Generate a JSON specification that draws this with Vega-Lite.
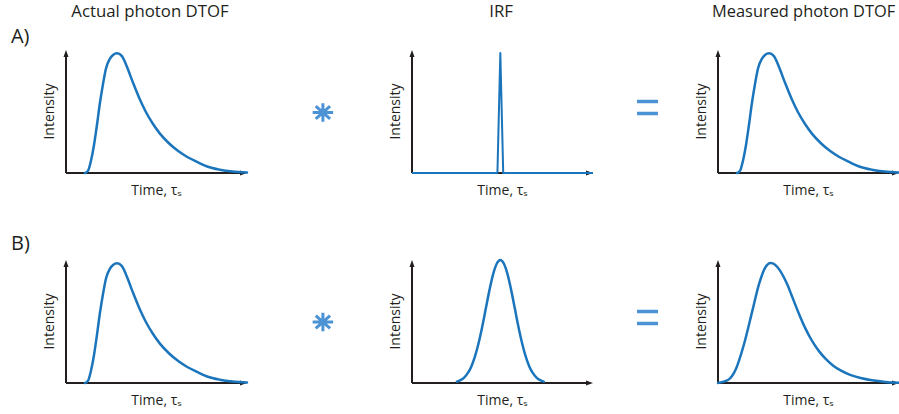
{
  "$schema": "https://vega.github.io/schema/vega-lite/v6.json",
  "background": "white",
  "padding": {"left": 10, "top": 3, "right": 0, "bottom": 0},
  "config": {"view": {"stroke": null}},
  "datasets": {
    "one": [{}],
    "dtof": [
      {"t": 10.5, "I": 0}, {"t": 12.2, "I": 0.02}, {"t": 13.8, "I": 0.1}, {"t": 15.5, "I": 0.23},
      {"t": 17.1, "I": 0.39}, {"t": 18.8, "I": 0.575}, {"t": 20.4, "I": 0.72}, {"t": 22.1, "I": 0.85},
      {"t": 24.3, "I": 0.93}, {"t": 26.0, "I": 0.96}, {"t": 28.2, "I": 0.973}, {"t": 30.9, "I": 0.95},
      {"t": 33.7, "I": 0.862}, {"t": 37.0, "I": 0.735}, {"t": 40.9, "I": 0.595}, {"t": 44.0, "I": 0.5},
      {"t": 48.0, "I": 0.4}, {"t": 52.0, "I": 0.318}, {"t": 57.0, "I": 0.24}, {"t": 62.0, "I": 0.178},
      {"t": 67.0, "I": 0.13}, {"t": 72.4, "I": 0.09}, {"t": 78.0, "I": 0.053}, {"t": 85.0, "I": 0.027},
      {"t": 92.0, "I": 0.012}, {"t": 100, "I": 0.004}
    ],
    "irfA": [
      {"t": 0, "I": 0}, {"t": 47.2, "I": 0}, {"t": 48.8, "I": 0.975}, {"t": 50.4, "I": 0}, {"t": 100, "I": 0}
    ],
    "irfB": [
      {"t": 24.8, "I": 0.011}, {"t": 26.8, "I": 0.023}, {"t": 28.8, "I": 0.044}, {"t": 30.8, "I": 0.08},
      {"t": 32.8, "I": 0.135}, {"t": 34.8, "I": 0.216}, {"t": 36.8, "I": 0.325}, {"t": 38.8, "I": 0.458},
      {"t": 40.8, "I": 0.607}, {"t": 42.8, "I": 0.755}, {"t": 44.8, "I": 0.883}, {"t": 46.8, "I": 0.969},
      {"t": 48.8, "I": 1.0}, {"t": 50.8, "I": 0.969}, {"t": 52.8, "I": 0.883}, {"t": 54.8, "I": 0.755},
      {"t": 56.8, "I": 0.607}, {"t": 58.8, "I": 0.458}, {"t": 60.8, "I": 0.325}, {"t": 62.8, "I": 0.216},
      {"t": 64.8, "I": 0.135}, {"t": 66.8, "I": 0.08}, {"t": 68.8, "I": 0.044}, {"t": 70.8, "I": 0.023},
      {"t": 72.8, "I": 0.011}
    ],
    "measB": [
      {"t": 0, "I": 0}, {"t": 5.5, "I": 0.024}, {"t": 9.9, "I": 0.114}, {"t": 14.4, "I": 0.317},
      {"t": 19.0, "I": 0.588}, {"t": 22.7, "I": 0.805}, {"t": 26.0, "I": 0.935}, {"t": 29.1, "I": 0.975},
      {"t": 31.5, "I": 0.962}, {"t": 34.0, "I": 0.92}, {"t": 36.3, "I": 0.862}, {"t": 38.3, "I": 0.8},
      {"t": 40.5, "I": 0.72}, {"t": 43.0, "I": 0.625}, {"t": 45.5, "I": 0.535}, {"t": 48.0, "I": 0.452},
      {"t": 50.5, "I": 0.38}, {"t": 53.0, "I": 0.318}, {"t": 56.0, "I": 0.255}, {"t": 59.5, "I": 0.196},
      {"t": 63.5, "I": 0.143}, {"t": 68.0, "I": 0.1}, {"t": 73.0, "I": 0.066}, {"t": 78.8, "I": 0.04},
      {"t": 85.0, "I": 0.022}, {"t": 92.5, "I": 0.009}, {"t": 100, "I": 0.003}
    ]
  },
  "columns": 5,
  "spacing": {"row": 87, "column": 0},
  "bounds": "flush",
  "concat": [
    {
      "width": 181, "height": 123,
      "layer": [
        {"data": {"name": "one"}, "mark": {"type": "rule", "color": "#231f20", "strokeWidth": 2}, "encoding": {"x": {"datum": 0, "type": "quantitative", "scale": {"domain": [0, 100]}, "axis": null}, "y": {"datum": 0, "type": "quantitative", "scale": {"domain": [0, 1]}, "axis": null}, "y2": {"datum": 0.95}}},
        {"data": {"name": "one"}, "mark": {"type": "rule", "color": "#231f20", "strokeWidth": 2}, "encoding": {"x": {"datum": 0, "type": "quantitative", "scale": {"domain": [0, 100]}, "axis": null}, "x2": {"datum": 97}, "y": {"datum": 0, "type": "quantitative", "scale": {"domain": [0, 1]}, "axis": null}}},
        {"data": {"name": "one"}, "mark": {"type": "point", "shape": "M0,0L0.36,1L-0.36,1Z", "filled": true, "color": "#231f20", "size": 196, "opacity": 1}, "encoding": {"x": {"datum": 0, "type": "quantitative", "scale": {"domain": [0, 100]}, "axis": null}, "y": {"datum": 1, "type": "quantitative", "scale": {"domain": [0, 1]}, "axis": null}}},
        {"data": {"name": "one"}, "mark": {"type": "point", "shape": "M0,0L-1,-0.36L-1,0.36Z", "filled": true, "color": "#231f20", "size": 196, "opacity": 1}, "encoding": {"x": {"datum": 100, "type": "quantitative", "scale": {"domain": [0, 100]}, "axis": null}, "y": {"datum": 0, "type": "quantitative", "scale": {"domain": [0, 1]}, "axis": null}}},
        {"data": {"name": "one"}, "mark": {"type": "text", "text": "Intensity", "font": "Open Sans", "fontSize": 14, "angle": 270, "align": "center", "baseline": "alphabetic", "color": "#231f20"}, "encoding": {"x": {"datum": -6.6, "type": "quantitative", "scale": {"domain": [0, 100]}, "axis": null}, "y": {"datum": 0.5, "type": "quantitative", "scale": {"domain": [0, 1]}, "axis": null}}},
        {"data": {"name": "one"}, "mark": {"type": "text", "text": "Time, τₛ", "font": "Open Sans", "fontSize": 14, "align": "center", "baseline": "alphabetic", "color": "#231f20"}, "encoding": {"x": {"datum": 50, "type": "quantitative", "scale": {"domain": [0, 100]}, "axis": null}, "y": {"datum": -0.179, "type": "quantitative", "scale": {"domain": [0, 1]}, "axis": null}}},
        {"data": {"name": "dtof"}, "mark": {"type": "line", "color": "#1b75bc", "strokeWidth": 2.5, "interpolate": "monotone", "strokeCap": "round"}, "encoding": {"x": {"field": "t", "type": "quantitative", "scale": {"domain": [0, 100]}, "axis": null}, "y": {"field": "I", "type": "quantitative", "scale": {"domain": [0, 1]}, "axis": null}}},
        {"data": {"name": "one"}, "mark": {"type": "text", "text": "A)", "font": "Open Sans", "fontSize": 20, "align": "left", "baseline": "alphabetic", "color": "#231f20"}, "encoding": {"x": {"datum": -30.4, "type": "quantitative", "scale": {"domain": [0, 100]}, "axis": null}, "y": {"datum": 1.055, "type": "quantitative", "scale": {"domain": [0, 1]}, "axis": null}}},
        {"data": {"name": "one"}, "mark": {"type": "text", "text": "Actual photon DTOF", "font": "Open Sans", "fontSize": 16.8, "align": "center", "baseline": "alphabetic", "color": "#231f20"}, "encoding": {"x": {"datum": 46.4, "type": "quantitative", "scale": {"domain": [0, 100]}, "axis": null}, "y": {"datum": 1.271, "type": "quantitative", "scale": {"domain": [0, 1]}, "axis": null}}}
      ]
    },
    {
      "width": 165, "height": 123,
      "data": {"name": "one"},
      "mark": {"type": "point", "shape": "M0,-0.9L0,0.9M-1,0L1,0M-0.7,-0.63L0.7,0.63M-0.7,0.63L0.7,-0.63", "filled": false, "color": "#4b93d4", "strokeWidth": 3, "size": 420, "opacity": 1},
      "encoding": {"x": {"datum": 0.46, "type": "quantitative", "scale": {"domain": [0, 1]}, "axis": null}, "y": {"datum": 0.492, "type": "quantitative", "scale": {"domain": [0, 1]}, "axis": null}}
    },
    {
      "width": 181, "height": 123,
      "layer": [
        {"data": {"name": "one"}, "mark": {"type": "rule", "color": "#231f20", "strokeWidth": 2}, "encoding": {"x": {"datum": 0, "type": "quantitative", "scale": {"domain": [0, 100]}, "axis": null}, "y": {"datum": 0, "type": "quantitative", "scale": {"domain": [0, 1]}, "axis": null}, "y2": {"datum": 0.95}}},
        {"data": {"name": "one"}, "mark": {"type": "rule", "color": "#231f20", "strokeWidth": 2}, "encoding": {"x": {"datum": 0, "type": "quantitative", "scale": {"domain": [0, 100]}, "axis": null}, "x2": {"datum": 97}, "y": {"datum": 0, "type": "quantitative", "scale": {"domain": [0, 1]}, "axis": null}}},
        {"data": {"name": "one"}, "mark": {"type": "point", "shape": "M0,0L0.36,1L-0.36,1Z", "filled": true, "color": "#231f20", "size": 196, "opacity": 1}, "encoding": {"x": {"datum": 0, "type": "quantitative", "scale": {"domain": [0, 100]}, "axis": null}, "y": {"datum": 1, "type": "quantitative", "scale": {"domain": [0, 1]}, "axis": null}}},
        {"data": {"name": "one"}, "mark": {"type": "point", "shape": "M0,0L-1,-0.36L-1,0.36Z", "filled": true, "color": "#231f20", "size": 196, "opacity": 1}, "encoding": {"x": {"datum": 100, "type": "quantitative", "scale": {"domain": [0, 100]}, "axis": null}, "y": {"datum": 0, "type": "quantitative", "scale": {"domain": [0, 1]}, "axis": null}}},
        {"data": {"name": "one"}, "mark": {"type": "text", "text": "Intensity", "font": "Open Sans", "fontSize": 14, "angle": 270, "align": "center", "baseline": "alphabetic", "color": "#231f20"}, "encoding": {"x": {"datum": -6.6, "type": "quantitative", "scale": {"domain": [0, 100]}, "axis": null}, "y": {"datum": 0.5, "type": "quantitative", "scale": {"domain": [0, 1]}, "axis": null}}},
        {"data": {"name": "one"}, "mark": {"type": "text", "text": "Time, τₛ", "font": "Open Sans", "fontSize": 14, "align": "center", "baseline": "alphabetic", "color": "#231f20"}, "encoding": {"x": {"datum": 50, "type": "quantitative", "scale": {"domain": [0, 100]}, "axis": null}, "y": {"datum": -0.179, "type": "quantitative", "scale": {"domain": [0, 1]}, "axis": null}}},
        {"data": {"name": "irfA"}, "mark": {"type": "line", "color": "#1b75bc", "strokeWidth": 2, "interpolate": "linear", "strokeJoin": "round"}, "encoding": {"x": {"field": "t", "type": "quantitative", "scale": {"domain": [0, 100]}, "axis": null}, "y": {"field": "I", "type": "quantitative", "scale": {"domain": [0, 1]}, "axis": null}}},
        {"data": {"name": "one"}, "mark": {"type": "text", "text": "IRF", "font": "Open Sans", "fontSize": 16.8, "align": "center", "baseline": "alphabetic", "color": "#231f20"}, "encoding": {"x": {"datum": 49.2, "type": "quantitative", "scale": {"domain": [0, 100]}, "axis": null}, "y": {"datum": 1.271, "type": "quantitative", "scale": {"domain": [0, 1]}, "axis": null}}}
      ]
    },
    {
      "width": 125, "height": 123,
      "data": {"name": "one"},
      "mark": {"type": "point", "shape": "M-1,-0.57L1,-0.57M-1,0.57L1,0.57", "filled": false, "color": "#4b93d4", "strokeWidth": 3.5, "size": 441, "opacity": 1},
      "encoding": {"x": {"datum": 0.436, "type": "quantitative", "scale": {"domain": [0, 1]}, "axis": null}, "y": {"datum": 0.533, "type": "quantitative", "scale": {"domain": [0, 1]}, "axis": null}}
    },
    {
      "width": 181, "height": 123,
      "layer": [
        {"data": {"name": "one"}, "mark": {"type": "rule", "color": "#231f20", "strokeWidth": 2}, "encoding": {"x": {"datum": 0, "type": "quantitative", "scale": {"domain": [0, 100]}, "axis": null}, "y": {"datum": 0, "type": "quantitative", "scale": {"domain": [0, 1]}, "axis": null}, "y2": {"datum": 0.95}}},
        {"data": {"name": "one"}, "mark": {"type": "rule", "color": "#231f20", "strokeWidth": 2}, "encoding": {"x": {"datum": 0, "type": "quantitative", "scale": {"domain": [0, 100]}, "axis": null}, "x2": {"datum": 97}, "y": {"datum": 0, "type": "quantitative", "scale": {"domain": [0, 1]}, "axis": null}}},
        {"data": {"name": "one"}, "mark": {"type": "point", "shape": "M0,0L0.36,1L-0.36,1Z", "filled": true, "color": "#231f20", "size": 196, "opacity": 1}, "encoding": {"x": {"datum": 0, "type": "quantitative", "scale": {"domain": [0, 100]}, "axis": null}, "y": {"datum": 1, "type": "quantitative", "scale": {"domain": [0, 1]}, "axis": null}}},
        {"data": {"name": "one"}, "mark": {"type": "point", "shape": "M0,0L-1,-0.36L-1,0.36Z", "filled": true, "color": "#231f20", "size": 196, "opacity": 1}, "encoding": {"x": {"datum": 100, "type": "quantitative", "scale": {"domain": [0, 100]}, "axis": null}, "y": {"datum": 0, "type": "quantitative", "scale": {"domain": [0, 1]}, "axis": null}}},
        {"data": {"name": "one"}, "mark": {"type": "text", "text": "Intensity", "font": "Open Sans", "fontSize": 14, "angle": 270, "align": "center", "baseline": "alphabetic", "color": "#231f20"}, "encoding": {"x": {"datum": -6.6, "type": "quantitative", "scale": {"domain": [0, 100]}, "axis": null}, "y": {"datum": 0.5, "type": "quantitative", "scale": {"domain": [0, 1]}, "axis": null}}},
        {"data": {"name": "one"}, "mark": {"type": "text", "text": "Time, τₛ", "font": "Open Sans", "fontSize": 14, "align": "center", "baseline": "alphabetic", "color": "#231f20"}, "encoding": {"x": {"datum": 50, "type": "quantitative", "scale": {"domain": [0, 100]}, "axis": null}, "y": {"datum": -0.179, "type": "quantitative", "scale": {"domain": [0, 1]}, "axis": null}}},
        {"data": {"name": "dtof"}, "mark": {"type": "line", "color": "#1b75bc", "strokeWidth": 2.5, "interpolate": "monotone", "strokeCap": "round"}, "encoding": {"x": {"field": "t", "type": "quantitative", "scale": {"domain": [0, 100]}, "axis": null}, "y": {"field": "I", "type": "quantitative", "scale": {"domain": [0, 1]}, "axis": null}}},
        {"data": {"name": "one"}, "mark": {"type": "text", "text": "Measured photon DTOF", "font": "Open Sans", "fontSize": 16.4, "align": "center", "baseline": "alphabetic", "color": "#231f20"}, "encoding": {"x": {"datum": 47.3, "type": "quantitative", "scale": {"domain": [0, 100]}, "axis": null}, "y": {"datum": 1.271, "type": "quantitative", "scale": {"domain": [0, 1]}, "axis": null}}}
      ]
    },
    {
      "width": 181, "height": 123,
      "layer": [
        {"data": {"name": "one"}, "mark": {"type": "rule", "color": "#231f20", "strokeWidth": 2}, "encoding": {"x": {"datum": 0, "type": "quantitative", "scale": {"domain": [0, 100]}, "axis": null}, "y": {"datum": 0, "type": "quantitative", "scale": {"domain": [0, 1]}, "axis": null}, "y2": {"datum": 0.95}}},
        {"data": {"name": "one"}, "mark": {"type": "rule", "color": "#231f20", "strokeWidth": 2}, "encoding": {"x": {"datum": 0, "type": "quantitative", "scale": {"domain": [0, 100]}, "axis": null}, "x2": {"datum": 97}, "y": {"datum": 0, "type": "quantitative", "scale": {"domain": [0, 1]}, "axis": null}}},
        {"data": {"name": "one"}, "mark": {"type": "point", "shape": "M0,0L0.36,1L-0.36,1Z", "filled": true, "color": "#231f20", "size": 196, "opacity": 1}, "encoding": {"x": {"datum": 0, "type": "quantitative", "scale": {"domain": [0, 100]}, "axis": null}, "y": {"datum": 1, "type": "quantitative", "scale": {"domain": [0, 1]}, "axis": null}}},
        {"data": {"name": "one"}, "mark": {"type": "point", "shape": "M0,0L-1,-0.36L-1,0.36Z", "filled": true, "color": "#231f20", "size": 196, "opacity": 1}, "encoding": {"x": {"datum": 100, "type": "quantitative", "scale": {"domain": [0, 100]}, "axis": null}, "y": {"datum": 0, "type": "quantitative", "scale": {"domain": [0, 1]}, "axis": null}}},
        {"data": {"name": "one"}, "mark": {"type": "text", "text": "Intensity", "font": "Open Sans", "fontSize": 14, "angle": 270, "align": "center", "baseline": "alphabetic", "color": "#231f20"}, "encoding": {"x": {"datum": -6.6, "type": "quantitative", "scale": {"domain": [0, 100]}, "axis": null}, "y": {"datum": 0.5, "type": "quantitative", "scale": {"domain": [0, 1]}, "axis": null}}},
        {"data": {"name": "one"}, "mark": {"type": "text", "text": "Time, τₛ", "font": "Open Sans", "fontSize": 14, "align": "center", "baseline": "alphabetic", "color": "#231f20"}, "encoding": {"x": {"datum": 50, "type": "quantitative", "scale": {"domain": [0, 100]}, "axis": null}, "y": {"datum": -0.179, "type": "quantitative", "scale": {"domain": [0, 1]}, "axis": null}}},
        {"data": {"name": "dtof"}, "mark": {"type": "line", "color": "#1b75bc", "strokeWidth": 2.5, "interpolate": "monotone", "strokeCap": "round"}, "encoding": {"x": {"field": "t", "type": "quantitative", "scale": {"domain": [0, 100]}, "axis": null}, "y": {"field": "I", "type": "quantitative", "scale": {"domain": [0, 1]}, "axis": null}}},
        {"data": {"name": "one"}, "mark": {"type": "text", "text": "B)", "font": "Open Sans", "fontSize": 20, "align": "left", "baseline": "alphabetic", "color": "#231f20"}, "encoding": {"x": {"datum": -30.4, "type": "quantitative", "scale": {"domain": [0, 100]}, "axis": null}, "y": {"datum": 1.08, "type": "quantitative", "scale": {"domain": [0, 1]}, "axis": null}}}
      ]
    },
    {
      "width": 165, "height": 123,
      "data": {"name": "one"},
      "mark": {"type": "point", "shape": "M0,-0.9L0,0.9M-1,0L1,0M-0.7,-0.63L0.7,0.63M-0.7,0.63L0.7,-0.63", "filled": false, "color": "#4b93d4", "strokeWidth": 3, "size": 420, "opacity": 1},
      "encoding": {"x": {"datum": 0.46, "type": "quantitative", "scale": {"domain": [0, 1]}, "axis": null}, "y": {"datum": 0.496, "type": "quantitative", "scale": {"domain": [0, 1]}, "axis": null}}
    },
    {
      "width": 181, "height": 123,
      "layer": [
        {"data": {"name": "one"}, "mark": {"type": "rule", "color": "#231f20", "strokeWidth": 2}, "encoding": {"x": {"datum": 0, "type": "quantitative", "scale": {"domain": [0, 100]}, "axis": null}, "y": {"datum": 0, "type": "quantitative", "scale": {"domain": [0, 1]}, "axis": null}, "y2": {"datum": 0.95}}},
        {"data": {"name": "one"}, "mark": {"type": "rule", "color": "#231f20", "strokeWidth": 2}, "encoding": {"x": {"datum": 0, "type": "quantitative", "scale": {"domain": [0, 100]}, "axis": null}, "x2": {"datum": 97}, "y": {"datum": 0, "type": "quantitative", "scale": {"domain": [0, 1]}, "axis": null}}},
        {"data": {"name": "one"}, "mark": {"type": "point", "shape": "M0,0L0.36,1L-0.36,1Z", "filled": true, "color": "#231f20", "size": 196, "opacity": 1}, "encoding": {"x": {"datum": 0, "type": "quantitative", "scale": {"domain": [0, 100]}, "axis": null}, "y": {"datum": 1, "type": "quantitative", "scale": {"domain": [0, 1]}, "axis": null}}},
        {"data": {"name": "one"}, "mark": {"type": "point", "shape": "M0,0L-1,-0.36L-1,0.36Z", "filled": true, "color": "#231f20", "size": 196, "opacity": 1}, "encoding": {"x": {"datum": 100, "type": "quantitative", "scale": {"domain": [0, 100]}, "axis": null}, "y": {"datum": 0, "type": "quantitative", "scale": {"domain": [0, 1]}, "axis": null}}},
        {"data": {"name": "one"}, "mark": {"type": "text", "text": "Intensity", "font": "Open Sans", "fontSize": 14, "angle": 270, "align": "center", "baseline": "alphabetic", "color": "#231f20"}, "encoding": {"x": {"datum": -6.6, "type": "quantitative", "scale": {"domain": [0, 100]}, "axis": null}, "y": {"datum": 0.5, "type": "quantitative", "scale": {"domain": [0, 1]}, "axis": null}}},
        {"data": {"name": "one"}, "mark": {"type": "text", "text": "Time, τₛ", "font": "Open Sans", "fontSize": 14, "align": "center", "baseline": "alphabetic", "color": "#231f20"}, "encoding": {"x": {"datum": 50, "type": "quantitative", "scale": {"domain": [0, 100]}, "axis": null}, "y": {"datum": -0.179, "type": "quantitative", "scale": {"domain": [0, 1]}, "axis": null}}},
        {"data": {"name": "irfB"}, "mark": {"type": "line", "color": "#1b75bc", "strokeWidth": 2.5, "interpolate": "monotone", "strokeCap": "round"}, "encoding": {"x": {"field": "t", "type": "quantitative", "scale": {"domain": [0, 100]}, "axis": null}, "y": {"field": "I", "type": "quantitative", "scale": {"domain": [0, 1]}, "axis": null}}}
      ]
    },
    {
      "width": 125, "height": 123,
      "data": {"name": "one"},
      "mark": {"type": "point", "shape": "M-1,-0.57L1,-0.57M-1,0.57L1,0.57", "filled": false, "color": "#4b93d4", "strokeWidth": 3.5, "size": 441, "opacity": 1},
      "encoding": {"x": {"datum": 0.436, "type": "quantitative", "scale": {"domain": [0, 1]}, "axis": null}, "y": {"datum": 0.533, "type": "quantitative", "scale": {"domain": [0, 1]}, "axis": null}}
    },
    {
      "width": 181, "height": 123,
      "layer": [
        {"data": {"name": "one"}, "mark": {"type": "rule", "color": "#231f20", "strokeWidth": 2}, "encoding": {"x": {"datum": 0, "type": "quantitative", "scale": {"domain": [0, 100]}, "axis": null}, "y": {"datum": 0, "type": "quantitative", "scale": {"domain": [0, 1]}, "axis": null}, "y2": {"datum": 0.95}}},
        {"data": {"name": "one"}, "mark": {"type": "rule", "color": "#231f20", "strokeWidth": 2}, "encoding": {"x": {"datum": 0, "type": "quantitative", "scale": {"domain": [0, 100]}, "axis": null}, "x2": {"datum": 97}, "y": {"datum": 0, "type": "quantitative", "scale": {"domain": [0, 1]}, "axis": null}}},
        {"data": {"name": "one"}, "mark": {"type": "point", "shape": "M0,0L0.36,1L-0.36,1Z", "filled": true, "color": "#231f20", "size": 196, "opacity": 1}, "encoding": {"x": {"datum": 0, "type": "quantitative", "scale": {"domain": [0, 100]}, "axis": null}, "y": {"datum": 1, "type": "quantitative", "scale": {"domain": [0, 1]}, "axis": null}}},
        {"data": {"name": "one"}, "mark": {"type": "point", "shape": "M0,0L-1,-0.36L-1,0.36Z", "filled": true, "color": "#231f20", "size": 196, "opacity": 1}, "encoding": {"x": {"datum": 100, "type": "quantitative", "scale": {"domain": [0, 100]}, "axis": null}, "y": {"datum": 0, "type": "quantitative", "scale": {"domain": [0, 1]}, "axis": null}}},
        {"data": {"name": "one"}, "mark": {"type": "text", "text": "Intensity", "font": "Open Sans", "fontSize": 14, "angle": 270, "align": "center", "baseline": "alphabetic", "color": "#231f20"}, "encoding": {"x": {"datum": -6.6, "type": "quantitative", "scale": {"domain": [0, 100]}, "axis": null}, "y": {"datum": 0.5, "type": "quantitative", "scale": {"domain": [0, 1]}, "axis": null}}},
        {"data": {"name": "one"}, "mark": {"type": "text", "text": "Time, τₛ", "font": "Open Sans", "fontSize": 14, "align": "center", "baseline": "alphabetic", "color": "#231f20"}, "encoding": {"x": {"datum": 50, "type": "quantitative", "scale": {"domain": [0, 100]}, "axis": null}, "y": {"datum": -0.179, "type": "quantitative", "scale": {"domain": [0, 1]}, "axis": null}}},
        {"data": {"name": "measB"}, "mark": {"type": "line", "color": "#1b75bc", "strokeWidth": 2.5, "interpolate": "monotone", "strokeCap": "round"}, "encoding": {"x": {"field": "t", "type": "quantitative", "scale": {"domain": [0, 100]}, "axis": null}, "y": {"field": "I", "type": "quantitative", "scale": {"domain": [0, 1]}, "axis": null}}}
      ]
    }
  ]
}
